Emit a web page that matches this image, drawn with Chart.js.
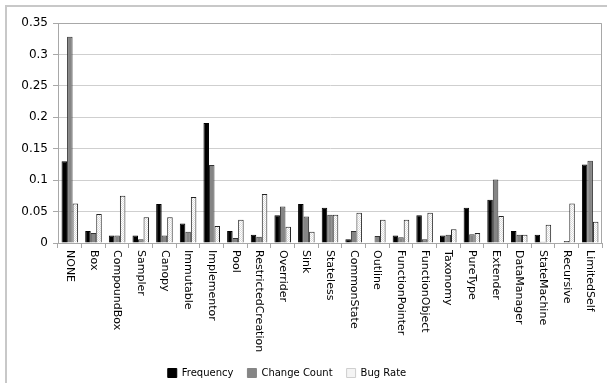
<!DOCTYPE html>
<html>
<head>
<meta charset="utf-8">
<script src="https://cdn.jsdelivr.net/npm/chart.js@4/dist/chart.umd.min.js"></script>
<style>
  html, body { margin: 0; padding: 0; background: #fff; }
  #wrap { position: relative; width: 607px; height: 383px; overflow: hidden; }
  #frame { position: absolute; left: 5px; top: 5px; right: -2px; bottom: -2px; border-left: 2px solid #c8c8c8; border-top: 2px solid #c8c8c8; }
  canvas { position: absolute; left: 0; top: 0; }
</style>
</head>
<body>
<div id="wrap">
  <div id="frame"></div>
  <canvas id="chart" width="607" height="388"></canvas>
</div>
<script>
const categories = ["NONE", "Box", "CompoundBox", "Sampler", "Canopy", "Immutable", "Implementor", "Pool",
  "RestrictedCreation", "Overrider", "Sink", "Stateless", "CommonState", "Outline", "FunctionPointer",
  "FunctionObject", "Taxonomy", "PureType", "Extender", "DataManager", "StateMachine", "Recursive", "LimitedSelf"];
const frequency = [0.130, 0.019, 0.012, 0.012, 0.062, 0.031, 0.191, 0.019, 0.013, 0.044, 0.062, 0.056,
  0.006, 0, 0.012, 0.044, 0.012, 0.056, 0.069, 0.019, 0.013, 0, 0.125];
const changeCount = [0.328, 0.016, 0.012, 0.006, 0.012, 0.018, 0.124, 0.008, 0.010, 0.058, 0.042, 0.045,
  0.019, 0.011, 0.009, 0.006, 0.013, 0.014, 0.101, 0.013, 0.002, 0.003, 0.131];
const bugRate = [0.063, 0.046, 0.075, 0.041, 0.041, 0.073, 0.027, 0.037, 0.078, 0.026, 0.018, 0.045,
  0.048, 0.037, 0.037, 0.048, 0.022, 0.016, 0.043, 0.013, 0.029, 0.063, 0.034];
const yTicks = [0, 0.05, 0.1, 0.15, 0.2, 0.25, 0.3, 0.35];

const FONT = "'DejaVu Sans', Verdana, sans-serif";

// light dotted fill for the Bug Rate bars
function dottedPattern() {
  const c = document.createElement("canvas");
  c.width = 2; c.height = 2;
  const g = c.getContext("2d");
  g.fillStyle = "#ffffff";
  g.fillRect(0, 0, 2, 2);
  g.fillStyle = "#dcdcdc";
  g.fillRect(0, 0, 1, 1);
  g.fillRect(1, 1, 1, 1);
  return g.createPattern(c, "repeat");
}
const bugFill = dottedPattern();

// x labels read top-to-bottom, starting right under the axis
const verticalLabels = {
  id: "verticalLabels",
  afterDraw(chart) {
    const ctx = chart.ctx;
    const x = chart.scales.x;
    ctx.save();
    ctx.font = "11px " + FONT;
    ctx.fillStyle = "#000";
    ctx.textAlign = "left";
    ctx.textBaseline = "middle";
    categories.forEach((name, i) => {
      ctx.save();
      ctx.translate(x.getPixelForValue(i), x.top + 7);
      ctx.rotate(Math.PI / 2);
      ctx.fillText(name, 0, 0);
      ctx.restore();
    });
    ctx.restore();
  }
};

const plotBorder = {
  id: "plotBorder",
  afterDatasetsDraw(chart) {
    const a = chart.chartArea;
    const ctx = chart.ctx;
    ctx.save();
    ctx.strokeStyle = "#a8a8a8";
    ctx.lineWidth = 1;
    ctx.beginPath();
    ctx.moveTo(Math.round(a.left) + 0.5, Math.round(a.top) + 0.5);
    ctx.lineTo(Math.round(a.right) - 0.5, Math.round(a.top) + 0.5);
    ctx.lineTo(Math.round(a.right) - 0.5, Math.round(a.bottom) + 0.5);
    ctx.stroke();
    ctx.restore();
  }
};

// the legend sits a little left of centre in the original
const legendShift = {
  id: "legendShift",
  afterLayout(chart) {
    chart.legend.left -= 14;
    chart.legend.right -= 14;
  }
};

new Chart(document.getElementById("chart"), {
  type: "bar",
  data: {
    labels: categories,
    datasets: [
      { label: "Frequency", data: frequency, backgroundColor: "#000000", borderColor: "#000000", borderWidth: 1 },
      { label: "Change Count", data: changeCount, backgroundColor: "#858585", borderColor: "#333333", borderWidth: 1 },
      { label: "Bug Rate", data: bugRate, backgroundColor: bugFill, borderColor: "#222222", borderWidth: 1 }
    ]
  },
  options: {
    responsive: false,
    animation: false,
    layout: { padding: { top: 23, right: 5, left: 0, bottom: 0 } },
    datasets: { bar: { categoryPercentage: 0.7, barPercentage: 1.0 } },
    plugins: {
      legend: {
        position: "bottom",
        labels: {
          font: { family: FONT, size: 10 },
          color: "#000",
          boxWidth: 9,
          boxHeight: 9,
          padding: 14,
          generateLabels(chart) {
            return chart.data.datasets.map((ds, i) => ({
              text: ds.label,
              fillStyle: i === 2 ? "#f4f4f4" : ds.backgroundColor,
              strokeStyle: i === 2 ? "#cfcfcf" : ds.backgroundColor,
              lineWidth: 1,
              datasetIndex: i,
              hidden: false
            }));
          }
        }
      },
      tooltip: { enabled: false }
    },
    scales: {
      x: {
        grid: { display: true, drawOnChartArea: false, offset: true, tickLength: 5, color: "#a8a8a8" },
        border: { color: "#a8a8a8" },
        ticks: { display: false },
        afterFit(scale) { scale.height = 111; }
      },
      y: {
        min: 0,
        max: 0.35,
        afterBuildTicks(scale) { scale.ticks = yTicks.map(v => ({ value: v })); },
        grid: { color: "#cfcfcf", tickLength: 5, tickColor: "#a8a8a8" },
        border: { color: "#a8a8a8" },
        ticks: {
          font: { family: FONT, size: 12 },
          color: "#000",
          padding: 5,
          callback: v => String(+v.toFixed(2))
        },
        afterFit(scale) { scale.width = 58; }
      }
    }
  },
  plugins: [verticalLabels, plotBorder, legendShift]
});
</script>
</body>
</html>
